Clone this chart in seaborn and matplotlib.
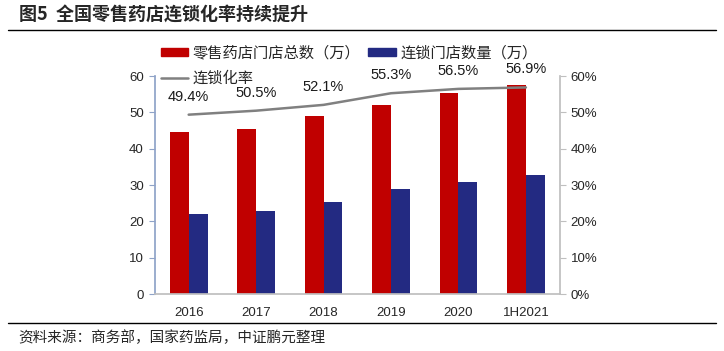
import numpy as np
import pandas as pd
import matplotlib
matplotlib.use("Agg")
import matplotlib.pyplot as plt
import seaborn as sns
from matplotlib.lines import Line2D
from matplotlib.ticker import PercentFormatter

years = ["2016", "2017", "2018", "2019", "2020", "1H2021"]
total_stores = [44.7, 45.4, 48.9, 52.2, 55.4, 57.7]
chain_stores = [22.1, 22.9, 25.5, 28.9, 31.0, 32.9]
chain_rate = [49.4, 50.5, 52.1, 55.3, 56.5, 56.9]

name_total = "零售药店门店总数（万）"
name_chain = "连锁门店数量（万）"
name_rate = "连锁化率"

sns.set_theme(style="white")
plt.rcParams['font.family'] = ['Liberation Sans', 'Noto Sans CJK SC']

df = pd.DataFrame({
    "year": years * 2,
    "value": total_stores + chain_stores,
    "series": [name_total] * len(years) + [name_chain] * len(years),
})

fig = plt.figure(figsize=(7.24, 3.51), dpi=100)
ax = fig.add_axes([0.214, 0.162, 0.559, 0.621])

sns.barplot(data=df, x="year", y="value", hue="series",
            palette=["#C00000", "#232A82"], width=0.56, gap=0,
            saturation=1, linewidth=0, ax=ax, legend=False)
ax.set_xlim(-0.5, len(years) - 0.5)
ax.set_ylim(0, 60)
ax.set_yticks(range(0, 61, 10))
ax.set_xlabel("")
ax.set_ylabel("")
ax.tick_params(axis="y", left=True, length=4, width=0.8, color="#8FA3C8",
               labelsize=9.5, pad=4)
ax.tick_params(axis="x", bottom=False, labelsize=9.5, pad=3)
for s in ["top", "right"]:
    ax.spines[s].set_visible(False)
ax.spines["left"].set_color("#8FA3C8")
ax.spines["bottom"].set_color("#BFBFBF")

ax2 = ax.twinx()
xs = np.arange(len(years))
sns.lineplot(x=xs, y=chain_rate, ax=ax2, color="#808080", linewidth=1.8)
ax2.set_ylim(0, 60)
ax2.set_yticks(range(0, 61, 10))
ax2.yaxis.set_major_formatter(PercentFormatter(decimals=0))
ax2.tick_params(axis="y", right=True, length=4, width=0.8, color="#BFBFBF",
                labelsize=9.5, pad=4)
for s in ["top", "left", "bottom"]:
    ax2.spines[s].set_visible(False)
ax2.spines["right"].set_color("#BFBFBF")

for x, r in zip(xs, chain_rate):
    ax2.annotate(f"{r:.1f}%", (x, r), xytext=(0, 13), textcoords="offset points",
                 ha="center", va="center", fontsize=10.5, color="#1a1a1a")

handles = [
    plt.Rectangle((0, 0), 1, 1, color="#C00000"),
    Line2D([0], [0], color="#808080", linewidth=1.8),
    plt.Rectangle((0, 0), 1, 1, color="#232A82"),
]
fig.legend(handles, [name_total, name_rate, name_chain], ncol=2,
           loc="upper left", bbox_to_anchor=(0.222, 0.87), frameon=False,
           fontsize=11, handlelength=1.8, handleheight=0.45, handletextpad=0.3,
           columnspacing=0.5, labelspacing=0.7, borderpad=0, borderaxespad=0)

# title and source
fig.text(0.026, 0.958, "图5  全国零售药店连锁化率持续提升", fontsize=13,
         fontweight="bold", ha="left", va="center",
         family=['Noto Sans CJK SC', 'Liberation Sans'])
fig.add_artist(Line2D([0.011, 0.989], [0.915, 0.915], color="black", linewidth=1))
fig.add_artist(Line2D([0.011, 0.989], [0.08, 0.08], color="black", linewidth=1))
fig.text(0.025, 0.037, "资料来源：商务部，国家药监局，中证鹏元整理", fontsize=10.5,
         ha="left", va="center", family=['Noto Sans CJK SC', 'Liberation Sans'])

fig.savefig("out.png", dpi=100)
